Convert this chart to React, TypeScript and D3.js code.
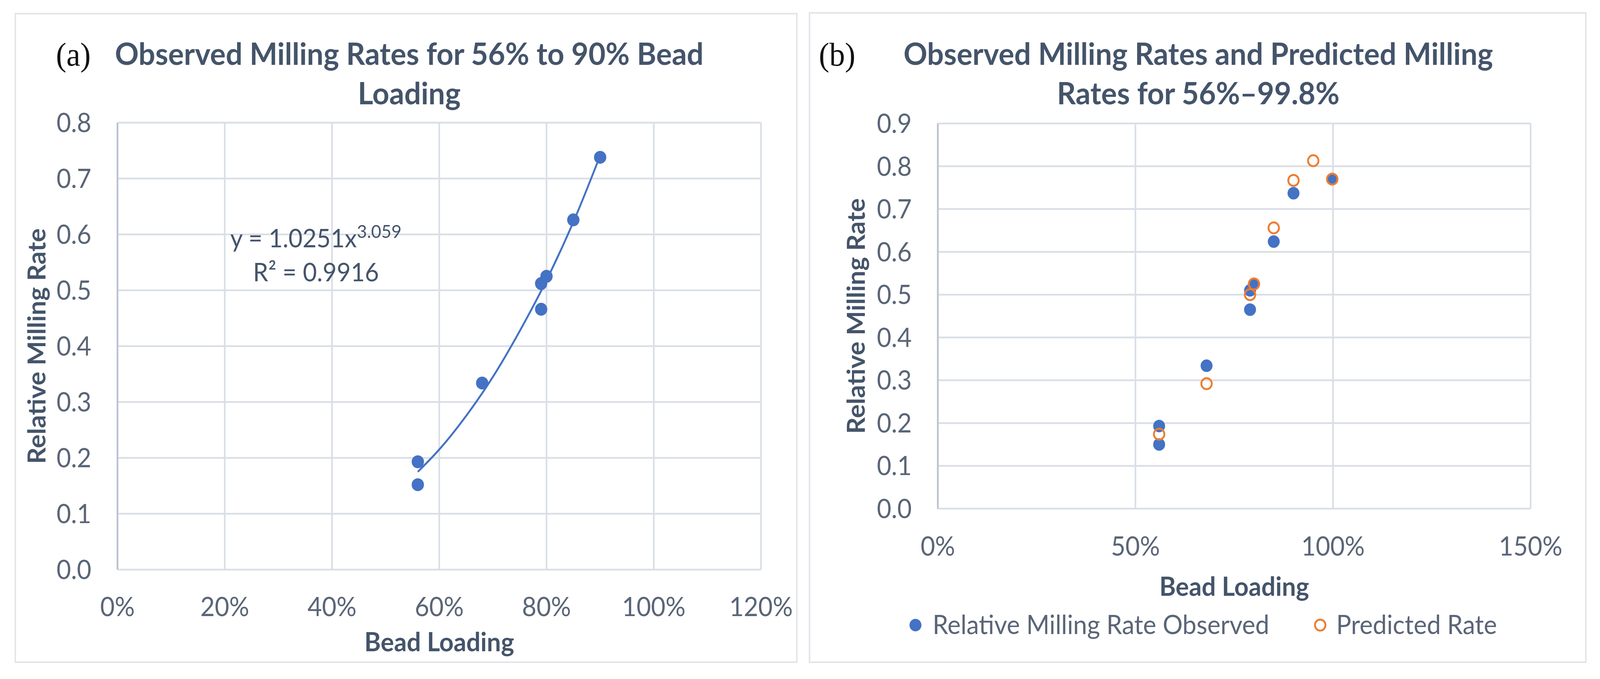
import { useEffect, useRef } from 'react'
import * as d3 from 'd3'

const W = 4289
const H = 1738

// (a) observed milling rates, 56–90 % bead loading
const loadingA = [0.56, 0.56, 0.68, 0.79, 0.79, 0.8, 0.85, 0.9]
const rateA = [0.193, 0.152, 0.334, 0.466, 0.512, 0.525, 0.626, 0.738]
// power trendline
const trendLoading = [0.56, 0.6, 0.65, 0.7, 0.75, 0.8, 0.85, 0.9]
const trendRate = [0.175, 0.215, 0.275, 0.345, 0.427, 0.518, 0.622, 0.741]
const xTicksA = [0, 0.2, 0.4, 0.6, 0.8, 1.0, 1.2]
const yTicksA = [0, 0.1, 0.2, 0.3, 0.4, 0.5, 0.6, 0.7, 0.8]

// (b) observed vs predicted, 56–99.8 %
const loadingObs = [0.56, 0.56, 0.68, 0.79, 0.79, 0.8, 0.85, 0.9, 0.998]
const rateObs = [0.193, 0.15, 0.334, 0.465, 0.51, 0.525, 0.624, 0.737, 0.77]
const loadingPred = [0.56, 0.68, 0.79, 0.8, 0.85, 0.9, 0.95, 0.998]
const ratePred = [0.174, 0.292, 0.5, 0.525, 0.656, 0.767, 0.813, 0.77]
const xTicksB = [0, 0.5, 1.0, 1.5]
const yTicksB = [0, 0.1, 0.2, 0.3, 0.4, 0.5, 0.6, 0.7, 0.8, 0.9]

const FONT = 'Lato, "Open Sans", sans-serif'
const TITLE_COLOR = '#44546a'
const TICK_COLOR = '#5a6577'
const GRID = '#dadfe6'
const BLUE = '#4472c4'
const ORANGE = '#ed7d31'

interface PanelSpec {
  box: [number, number, number, number]
  plot: { left: number; right: number; top: number; bottom: number }
  xMax: number
  yMax: number
  xTicks: number[]
  yTicks: number[]
  tag: string
  tagX: number
  titleLines: string[]
  titleX: number
  yLabelX: number
  xLabelY: number
  xTickY: number
  yTickX: number
}

function drawPanel(svg: d3.Selection<SVGSVGElement, unknown, null, undefined>, p: PanelSpec) {
  const [bx, by, bw, bh] = p.box
  svg.append('rect')
    .attr('x', bx).attr('y', by).attr('width', bw).attr('height', bh)
    .attr('fill', 'white').attr('stroke', '#e1e5ea').attr('stroke-width', 4)

  const x = d3.scaleLinear().domain([0, p.xMax]).range([p.plot.left, p.plot.right])
  const y = d3.scaleLinear().domain([0, p.yMax]).range([p.plot.bottom, p.plot.top])

  // gridlines
  svg.append('g').selectAll('line').data(p.yTicks).enter().append('line')
    .attr('x1', p.plot.left).attr('x2', p.plot.right)
    .attr('y1', d => y(d)).attr('y2', d => y(d))
    .attr('stroke', GRID).attr('stroke-width', 4.5)
  svg.append('g').selectAll('line').data(p.xTicks).enter().append('line')
    .attr('x1', d => x(d)).attr('x2', d => x(d))
    .attr('y1', p.plot.top).attr('y2', p.plot.bottom)
    .attr('stroke', GRID).attr('stroke-width', 4.5)
  // value axis line
  svg.append('line')
    .attr('x1', p.plot.left).attr('x2', p.plot.left)
    .attr('y1', p.plot.top).attr('y2', p.plot.bottom)
    .attr('stroke', '#b9c3d0').attr('stroke-width', 4.5)

  // tick labels
  svg.append('g').selectAll('text').data(p.yTicks).enter().append('text')
    .attr('x', p.yTickX).attr('y', d => y(d) + 24)
    .attr('text-anchor', 'end')
    .style('font-family', FONT).style('font-size', '67px').style('fill', TICK_COLOR)
    .text(d => d3.format('.1f')(d))
  svg.append('g').selectAll('text').data(p.xTicks).enter().append('text')
    .attr('x', d => x(d)).attr('y', p.xTickY)
    .attr('text-anchor', 'middle')
    .style('font-family', FONT).style('font-size', '67px').style('fill', TICK_COLOR)
    .text(d => d3.format('.0%')(d))

  // axis titles
  svg.append('text')
    .attr('x', (p.plot.left + p.plot.right) / 2).attr('y', p.xLabelY)
    .attr('text-anchor', 'middle')
    .style('font-family', FONT).style('font-size', '67px').style('font-weight', 700).style('fill', TITLE_COLOR)
    .text('Bead Loading')
  svg.append('text')
    .attr('transform', `translate(${p.yLabelX},${(p.plot.top + p.plot.bottom) / 2}) rotate(-90)`)
    .attr('text-anchor', 'middle').attr('dy', '0.35em')
    .style('font-family', FONT).style('font-size', '66px').style('font-weight', 700).style('fill', TITLE_COLOR)
    .text('Relative Milling Rate')

  // panel tag and title
  svg.append('text')
    .attr('x', p.tagX).attr('y', 168)
    .style('font-family', '"Liberation Serif", "DejaVu Serif", serif').style('font-size', '84px').style('fill', '#111')
    .text(p.tag)
  p.titleLines.forEach((line, i) => {
    svg.append('text')
      .attr('x', p.titleX).attr('y', 166 + i * 101)
      .attr('text-anchor', 'middle')
      .style('font-family', FONT).style('font-size', '79px').style('font-weight', 700).style('fill', TITLE_COLOR)
      .text(line)
  })

  return { x, y }
}

export default function App() {
  const svgRef = useRef<SVGSVGElement>(null)

  useEffect(() => {
    if (!svgRef.current) return
    const svg = d3.select(svgRef.current)
    svg.selectAll('*').remove()

    svg.append('rect').attr('width', W).attr('height', H).attr('fill', 'white')

    // ---- panel (a)
    const a = drawPanel(svg, {
      box: [41, 35, 2095, 1660],
      plot: { left: 315, right: 2040, top: 314, bottom: 1458 },
      xMax: 1.2, yMax: 0.8,
      xTicks: xTicksA, yTicks: yTicksA,
      tag: '(a)', tagX: 150,
      titleLines: ['Observed Milling Rates for 56% to 90% Bead', 'Loading'],
      titleX: 1097,
      yLabelX: 99, xLabelY: 1667, xTickY: 1577, yTickX: 245,
    })

    const trend = d3.line<number>()
      .x((_, i) => a.x(trendLoading[i]))
      .y(d => a.y(d))
      .curve(d3.curveMonotoneX)
    svg.append('path')
      .datum(trendRate)
      .attr('fill', 'none').attr('stroke', BLUE).attr('stroke-width', 5)
      .attr('d', trend)

    svg.append('g').selectAll('circle').data(rateA).enter().append('circle')
      .attr('cx', (_, i) => a.x(loadingA[i]))
      .attr('cy', d => a.y(d))
      .attr('r', 16.5)
      .attr('fill', BLUE)

    // trendline equation
    const eq = svg.append('text')
      .attr('x', 847).attr('y', 633).attr('text-anchor', 'middle')
      .style('font-family', FONT).style('font-size', '65px').style('fill', TITLE_COLOR)
    eq.append('tspan').text('y = 1.0251x')
    eq.append('tspan').attr('dy', -24).style('font-size', '47px').text('3.059')
    svg.append('text')
      .attr('x', 847).attr('y', 720).attr('text-anchor', 'middle')
      .style('font-family', FONT).style('font-size', '65px').style('fill', TITLE_COLOR)
      .text('R² = 0.9916')

    // ---- panel (b)
    const b = drawPanel(svg, {
      box: [2170, 33, 2081, 1662],
      plot: { left: 2514, right: 4103, top: 316, bottom: 1302 },
      xMax: 1.5, yMax: 0.9,
      xTicks: xTicksB, yTicks: yTicksB,
      tag: '(b)', tagX: 2195,
      titleLines: ['Observed Milling Rates and Predicted Milling', 'Rates for 56%–99.8%'],
      titleX: 3212,
      yLabelX: 2295, xLabelY: 1525, xTickY: 1422, yTickX: 2444,
    })

    svg.append('g').selectAll('circle').data(rateObs).enter().append('circle')
      .attr('cx', (_, i) => b.x(loadingObs[i]))
      .attr('cy', d => b.y(d))
      .attr('r', 16)
      .attr('fill', BLUE)

    svg.append('g').selectAll('circle').data(ratePred).enter().append('circle')
      .attr('cx', (_, i) => b.x(loadingPred[i]))
      .attr('cy', d => b.y(d))
      .attr('r', 14)
      .attr('fill', 'none').attr('stroke', ORANGE).attr('stroke-width', 5)

    // legend
    const legend = svg.append('g')
    legend.append('circle').attr('cx', 2454).attr('cy', 1600).attr('r', 16).attr('fill', BLUE)
    legend.append('text').attr('x', 2500).attr('y', 1623)
      .style('font-family', FONT).style('font-size', '67px').style('fill', TICK_COLOR)
      .text('Relative Milling Rate Observed')
    legend.append('circle').attr('cx', 3539).attr('cy', 1600).attr('r', 14)
      .attr('fill', 'none').attr('stroke', ORANGE).attr('stroke-width', 5)
    legend.append('text').attr('x', 3582).attr('y', 1623)
      .style('font-family', FONT).style('font-size', '67px').style('fill', TICK_COLOR)
      .text('Predicted Rate')
  }, [])

  return (
    <div style={{ position: 'fixed', left: 0, top: 0, width: '100vw', height: '100vh', overflow: 'hidden' }}>
      <svg
        ref={svgRef}
        viewBox={`0 0 ${W} ${H}`}
        preserveAspectRatio="none"
        style={{ display: 'block', width: '100%', height: '100%' }}
      />
    </div>
  )
}
